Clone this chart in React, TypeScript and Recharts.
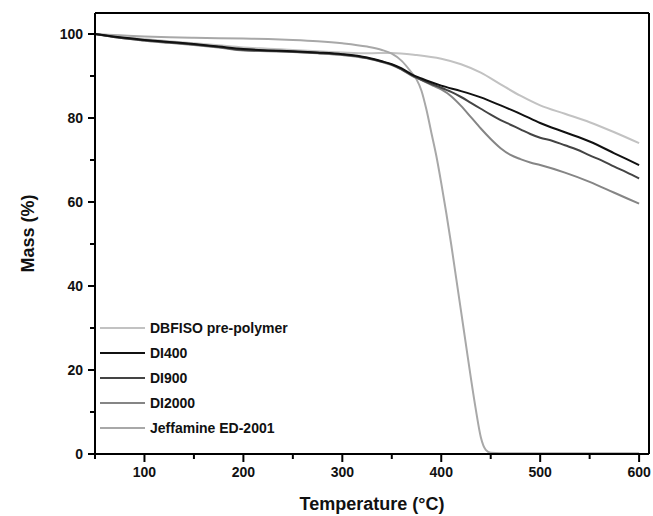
import React from 'react';
import { LineChart, Line, XAxis, YAxis, ReferenceLine, Legend } from 'recharts';

const FONT = '"Liberation Sans", Arial, Helvetica, sans-serif';

const seriesNames = ['DBFISO pre-polymer', 'DI400', 'DI900', 'DI2000', 'Jeffamine ED-2001'];
const seriesColors = ['#c2c2c2', '#111111', '#444444', '#858585', '#a8a8a8'];

const xTicks = [50, 100, 150, 200, 250, 300, 350, 400, 450, 500, 550, 600];
const yTicks = [0, 10, 20, 30, 40, 50, 60, 70, 80, 90, 100];

// [temperature °C, mass %]
const dbfiso: [number, number][] = [
  [50, 100], [75, 99.3], [100, 98.8], [125, 98.3], [150, 97.8], [175, 97.3], [200, 96.8], [225, 96.5],
  [250, 96.2], [275, 95.9], [300, 95.6], [325, 95.4], [350, 95.5], [375, 95.0], [400, 94.1], [420, 92.8],
  [440, 90.8], [460, 88.0], [480, 85.3], [500, 83.0], [525, 81.0], [550, 79.0], [575, 76.6], [600, 74.0],
];
const di400: [number, number][] = [
  [50, 100], [75, 99.2], [100, 98.6], [125, 98.1], [150, 97.6], [175, 97.0], [200, 96.4], [225, 96.1],
  [250, 95.9], [275, 95.6], [300, 95.2], [325, 94.4], [340, 93.5], [350, 92.8], [360, 91.8], [370, 90.4],
  [380, 89.4], [390, 88.5], [400, 87.7], [420, 86.4], [440, 84.9], [460, 83.0], [480, 81.0], [500, 78.8],
  [525, 76.6], [550, 74.4], [575, 71.6], [600, 68.8],
];
const di900: [number, number][] = [
  [50, 100], [75, 99.1], [100, 98.5], [125, 98.0], [150, 97.5], [175, 96.9], [200, 96.2], [225, 96.0],
  [250, 95.8], [275, 95.5], [300, 95.1], [325, 94.3], [340, 93.4], [350, 92.7], [360, 91.6], [370, 90.2],
  [380, 89.1], [390, 88.1], [400, 87.2], [410, 86.2], [420, 85.0], [430, 83.6], [440, 82.2], [450, 80.8],
  [460, 79.5], [470, 78.4], [480, 77.3], [490, 76.2], [500, 75.3], [512, 74.6], [525, 73.5], [537, 72.5],
  [550, 71.1], [562, 69.9], [575, 68.4], [587, 67.1], [600, 65.6],
];
const di2000: [number, number][] = [
  [50, 100], [75, 99.1], [100, 98.4], [125, 97.9], [150, 97.4], [175, 96.8], [200, 96.1], [225, 95.9],
  [250, 95.7], [275, 95.4], [300, 95.0], [325, 94.2], [340, 93.3], [350, 92.6], [360, 91.5], [370, 90.1],
  [380, 89.0], [390, 87.9], [400, 86.8], [410, 85.2], [420, 82.9], [430, 80.2], [440, 77.5], [450, 75.0],
  [460, 72.8], [470, 71.2], [480, 70.2], [490, 69.4], [500, 68.8], [525, 67.0], [550, 64.8], [575, 62.2],
  [600, 59.6],
];
const jeffamine: [number, number][] = [
  [50, 100], [75, 99.7], [100, 99.4], [125, 99.2], [150, 99.1], [175, 99.0], [200, 98.9], [225, 98.8],
  [250, 98.6], [275, 98.3], [300, 97.8], [325, 97.0], [340, 96.2], [350, 95.3], [360, 93.6], [370, 90.8],
  [375, 89.2], [380, 86.5], [385, 82.0], [390, 76.5], [395, 71.0], [400, 64.5], [405, 57.5], [410, 50.0],
  [415, 42.0], [420, 34.0], [425, 26.0], [430, 18.0], [435, 10.5], [440, 4.0], [445, 1.0], [450, 0.3],
  [460, 0.2], [500, 0.2], [550, 0.2], [600, 0.2],
];

const allSeries = [dbfiso, di400, di900, di2000, jeffamine];
const toRows = (s: [number, number][]) => s.map(([t, m]) => ({ t, m }));

const XTick = (props: any) => {
  const { x, y, payload } = props;
  const major = payload.value % 100 === 0;
  return (
    <g>
      <line x1={x} x2={x} y1={y} y2={y + (major ? 8 : 5)} stroke="#000" strokeWidth={2} />
      {major && (
        <text x={x} y={y + 23} textAnchor="middle" fontSize={14} fontWeight="bold" fontFamily={FONT} fill="#111">
          {payload.value}
        </text>
      )}
    </g>
  );
};

const YTick = (props: any) => {
  const { x, y, payload } = props;
  const major = payload.value % 20 === 0;
  return (
    <g>
      <line x1={x} x2={x - (major ? 7 : 5)} y1={y} y2={y} stroke="#000" strokeWidth={2} />
      {major && (
        <text x={x - 12} y={y + 5} textAnchor="end" fontSize={14} fontWeight="bold" fontFamily={FONT} fill="#111">
          {payload.value}
        </text>
      )}
    </g>
  );
};

const renderLegend = () => (
  <div style={{ fontFamily: FONT }}>
    {seriesNames.map((n, i) => (
      <div key={n} style={{ display: 'flex', alignItems: 'center', height: 25.2 }}>
        <div style={{ width: 45, height: 0, borderTop: `2.5px solid ${seriesColors[i]}`, marginRight: 5 }} />
        <span style={{ fontSize: 14, fontWeight: 'bold', color: '#111' }}>{n}</span>
      </div>
    ))}
  </div>
);

export default function App() {
  return (
    <div style={{ position: 'absolute', left: 0, top: 0, width: 653, height: 516, background: '#fff' }}>
      <LineChart width={653} height={516} margin={{ top: 13, right: 4, bottom: 0, left: 0 }}>
        <XAxis
          dataKey="t"
          type="number"
          domain={[50, 610]}
          ticks={xTicks}
          tick={<XTick />}
          tickSize={0}
          tickMargin={0}
          tickLine={false}
          axisLine={{ stroke: '#000', strokeWidth: 2 }}
          height={62}
          allowDataOverflow
          label={{ value: 'Temperature (°C)', position: 'insideBottom', offset: 6, fontSize: 18, fontWeight: 'bold', fontFamily: FONT, fill: '#111' }}
        />
        <YAxis
          dataKey="m"
          type="number"
          domain={[0, 105]}
          ticks={yTicks}
          tick={<YTick />}
          tickSize={0}
          tickMargin={0}
          tickLine={false}
          axisLine={{ stroke: '#000', strokeWidth: 2 }}
          width={95}
          allowDataOverflow
          label={{ value: 'Mass (%)', angle: -90, position: 'insideLeft', offset: 28, fontSize: 18, fontWeight: 'bold', fontFamily: FONT, fill: '#111', style: { textAnchor: 'middle' } }}
        />
        <ReferenceLine y={105} stroke="#000" strokeWidth={2} />
        <ReferenceLine x={610} stroke="#000" strokeWidth={2} />
        {[0, 4, 3, 2, 1].map((i) => (
          <Line
            key={seriesNames[i]}
            data={toRows(allSeries[i])}
            dataKey="m"
            name={seriesNames[i]}
            type="monotone"
            stroke={seriesColors[i]}
            strokeWidth={2}
            dot={false}
            activeDot={false}
            isAnimationActive={false}
          />
        ))}
        <Legend
          layout="vertical"
          align="center"
          verticalAlign="middle"
          content={renderLegend}
          wrapperStyle={{ position: 'absolute', left: 100, top: 315, width: 260, right: 'auto', bottom: 'auto' }}
        />
      </LineChart>
    </div>
  );
}
